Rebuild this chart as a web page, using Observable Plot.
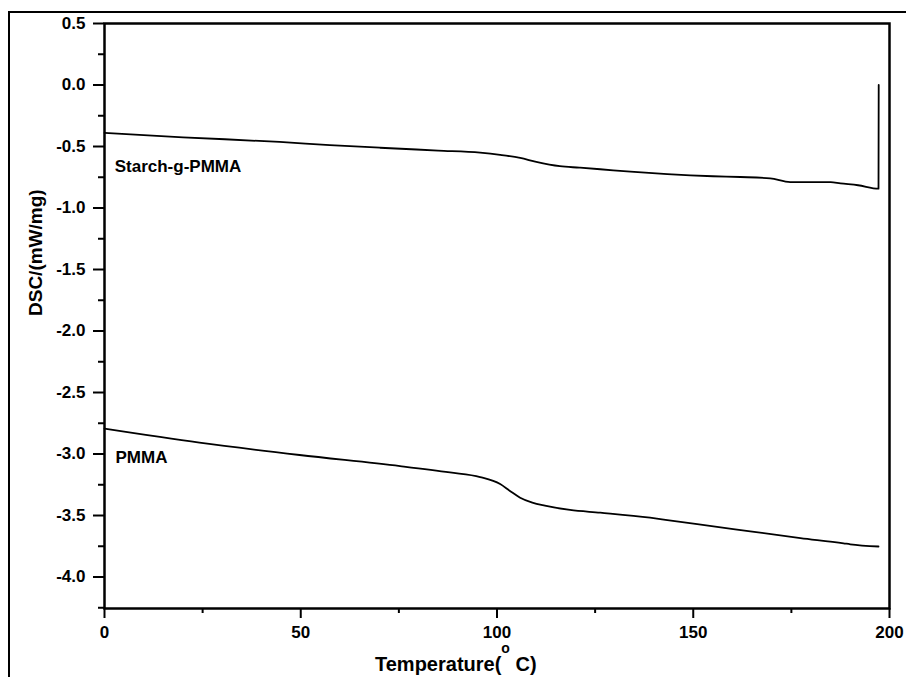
<!DOCTYPE html>
<html>
<head>
<meta charset="utf-8">
<script src="https://cdn.jsdelivr.net/npm/d3@7"></script>
<script src="https://cdn.jsdelivr.net/npm/@observablehq/plot@0.6"></script>
<style>
  html, body { margin: 0; padding: 0; background: #fff; }
  #chart { width: 906px; height: 677px; overflow: hidden; }
</style>
</head>
<body>
<div id="chart"></div>
<script>
// Starch-g-PMMA curve (Temperature °C, DSC mW/mg)
const starchT = [0, 20, 44.6, 57.4, 70.2, 85, 95.7, 100.8, 105.9, 110, 116, 121, 126.3, 134, 143.4, 155, 162, 169.6, 174.7, 180, 185, 187.5, 192, 197.2, 197.25];
const starchV = [-0.39, -0.425, -0.463, -0.488, -0.51, -0.533, -0.55, -0.568, -0.593, -0.625, -0.66, -0.672, -0.685, -0.705, -0.725, -0.742, -0.748, -0.759, -0.789, -0.79, -0.79, -0.8, -0.815, -0.843, 0.0];

// PMMA curve
const pmmaT = [0, 24.2, 49.7, 75.3, 88, 95.7, 100.8, 103.3, 105.9, 109, 112.2, 118.6, 126.3, 139, 143.4, 160.2, 177.3, 188.3, 190, 197.2];
const pmmaV = [-2.794, -2.908, -3.008, -3.098, -3.15, -3.187, -3.244, -3.30, -3.355, -3.395, -3.42, -3.455, -3.477, -3.518, -3.537, -3.61, -3.683, -3.726, -3.734, -3.752];

// Series labels
const labelNames = ["Starch-g-PMMA", "PMMA"];
const labelT = [2.6, 2.8];
const labelV = [-0.667, -3.03];

// Axis ticks
const xMajor = [0, 50, 100, 150, 200];
const xMinor = [25, 75, 125, 175];
const yMajor = [0.5, 0.0, -0.5, -1.0, -1.5, -2.0, -2.5, -3.0, -3.5, -4.0];
const yMinor = [0.25, -0.25, -0.75, -1.25, -1.75, -2.25, -2.75, -3.25, -3.75, -4.25].filter(v => v > -4.256);

const rows = [
  ...starchT.map((t, i) => ({series: "Starch-g-PMMA", T: t, v: starchV[i]})),
  ...pmmaT.map((t, i) => ({series: "PMMA", T: t, v: pmmaV[i]}))
];
const labels = labelNames.map((n, i) => ({name: n, T: labelT[i], v: labelV[i]}));

const plot = Plot.plot({
  width: 906,
  height: 677,
  marginLeft: 104,
  marginRight: 17,
  marginTop: 23,
  marginBottom: 69,
  style: {fontFamily: "'Liberation Sans', Arial, sans-serif", background: "#fff", color: "#000"},
  x: {domain: [0, 200]},
  y: {domain: [-4.256, 0.5]},
  marks: [
    Plot.axisX({ticks: xMajor, tickSize: 10, tickPadding: 7, tickFormat: d => String(d), fontSize: 17, fontWeight: "bold", strokeWidth: 2, label: null}),
    Plot.axisX({ticks: xMinor, tickSize: 5, tickFormat: () => "", strokeWidth: 2, label: null}),
    Plot.axisY({ticks: yMajor, tickSize: 11, tickPadding: 8, tickFormat: d => d.toFixed(1), fontSize: 17, fontWeight: "bold", strokeWidth: 2, label: null}),
    Plot.axisY({ticks: yMinor, tickSize: 6, tickFormat: () => "", strokeWidth: 2, label: null}),
    Plot.frame({stroke: "#000", strokeWidth: 2.5}),
    Plot.line(rows, {x: "T", y: "v", z: "series", stroke: "#000", strokeWidth: 1.8, curve: "monotone-x"}),
    Plot.text(labels, {x: "T", y: "v", text: "name", textAnchor: "start", fontSize: 17, fontWeight: "bold", fill: "#000"}),
    Plot.text(["DSC/(mW/mg)"], {frameAnchor: "left", dx: -69, rotate: -90, text: d => d, fontSize: 19, fontWeight: "bold", fill: "#000"})
  ]
});

// x-axis title with superscript degree "o"
const svg = d3.select(plot);
const t = svg.append("text")
  .attr("x", 375).attr("y", 671)
  .attr("text-anchor", "start")
  .attr("font-size", 20).attr("font-weight", "bold").attr("fill", "#000")
  .attr("font-family", "'Liberation Sans', Arial, sans-serif");
t.append("tspan").text("Temperature(");
t.append("tspan").attr("font-size", 14).attr("dy", -18).text("o");
t.append("tspan").attr("dy", 18).text("\u00a0C)");

// outer page frame
svg.append("path").attr("d", "M9,677V12H906").attr("fill", "none").attr("stroke", "#000").attr("stroke-width", 2);

document.getElementById("chart").appendChild(plot);
</script>
</body>
</html>
